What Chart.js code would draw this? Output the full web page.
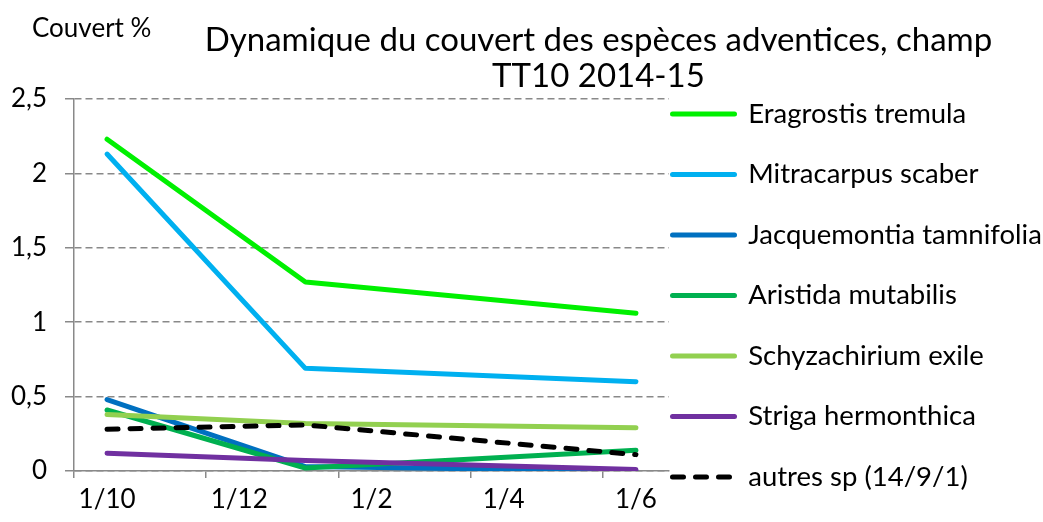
<!DOCTYPE html>
<html>
<head>
<meta charset="utf-8">
<script src="https://cdn.jsdelivr.net/npm/chart.js@4.4.1/dist/chart.umd.min.js"></script>
<style>
  html, body { margin: 0; padding: 0; background: #ffffff; }
  #wrap { width: 1043px; height: 522px; position: relative; }
</style>
</head>
<body>
<div id="wrap"><canvas id="c" width="1043" height="522"></canvas></div>
<script>
// ---- data ----
const chartTitle = ['Dynamique du couvert des espèces adventices, champ', 'TT10 2014-15'];
const unitLabel = 'Couvert %';
const months = ['1/10', '1/11', '1/12', '1/1', '1/2', '1/3', '1/4', '1/5', '1/6'];
const sampleDates = ['1/10', '1/1', '1/6'];
const seriesNames = ['Eragrostis tremula', 'Mitracarpus scaber', 'Jacquemontia tamnifolia',
  'Aristida mutabilis', 'Schyzachirium exile', 'Striga hermonthica', 'autres sp (14/9/1)'];
const eragrostis = [2.23, 1.27, 1.06];
const mitracarpus = [2.13, 0.69, 0.60];
const jacquemontia = [0.48, 0.03, 0.00];
const aristida = [0.41, 0.02, 0.14];
const schyzachirium = [0.38, 0.32, 0.29];
const striga = [0.12, 0.07, 0.01];
const autres = [0.28, 0.31, 0.11];
const yTicks = [0, 0.5, 1, 1.5, 2, 2.5];

// ---- styles ----
const seriesValues = [eragrostis, mitracarpus, jacquemontia, aristida, schyzachirium, striga, autres];
const seriesColors = ['#00F000', '#00B0F0', '#0070C0', '#00B050', '#92D050', '#7030A0', '#000000'];
const seriesDash = [[], [], [], [], [], [], [11, 12]];
const GRAY = '#898989';
const FONT = 'Lato';
const FS = 26;
const LEGEND_FS = 27.5;

const datasets = seriesValues.map((vals, i) => ({
  label: seriesNames[i],
  data: sampleDates.map((d, k) => ({ x: d, y: vals[k] })),
  borderColor: seriesColors[i],
  backgroundColor: seriesColors[i],
  borderWidth: 5,
  borderDash: seriesDash[i],
  borderCapStyle: 'round',
  borderJoinStyle: 'round',
  pointRadius: 0,
  pointHoverRadius: 0,
  pointStyle: 'line',
  tension: 0,
  order: seriesValues.length - i
}));

const layoutTweaks = {
  id: 'layoutTweaks',
  afterLayout(chart, args, opts) {
    const lg = chart.legend;
    if (lg) {
      lg.left += opts.legendDx;
      lg.top += opts.legendDy;
      lg.bottom += opts.legendDy;
    }
    const tb = chart.titleBlock;
    if (tb) {
      tb.left += opts.titleDx;
      tb.right += opts.titleDx;
    }
  },
  afterDraw(chart, args, opts) {
    const ctx = chart.ctx;
    ctx.save();
    ctx.font = opts.unitFont;
    ctx.fillStyle = '#000';
    ctx.textAlign = 'left';
    ctx.textBaseline = 'middle';
    ctx.fillText(unitLabel, opts.unitX, opts.unitY);
    ctx.restore();
  }
};

Chart.defaults.font.family = FONT;
Chart.defaults.color = '#000';

new Chart(document.getElementById('c'), {
  type: 'line',
  data: { labels: months, datasets: datasets },
  plugins: [layoutTweaks],
  options: {
    responsive: false,
    animation: false,
    devicePixelRatio: 1,
    layout: { padding: 0 },
    plugins: {
      tooltip: { enabled: false },
      title: {
        display: true,
        text: chartTitle,
        color: '#000',
        font: { size: 33, weight: 'normal', lineHeight: '36px' },
        padding: { top: 22, bottom: 5 }
      },
      legend: {
        display: true,
        position: 'right',
        maxWidth: 374,
        labels: {
          usePointStyle: true,
          pointStyleWidth: 62,
          padding: 33,
          color: '#000',
          font: { size: LEGEND_FS },
          sort: (a, b) => a.datasetIndex - b.datasetIndex,
          generateLabels: (chart) => {
            const items = Chart.defaults.plugins.legend.labels.generateLabels(chart);
            items.forEach(it => {
              const ds = chart.data.datasets[it.datasetIndex];
              it.lineDash = ds.borderDash;
              it.lineCap = ds.borderCapStyle;
              it.lineWidth = ds.borderWidth;
            });
            return items;
          }
        }
      },
      layoutTweaks: {
        legendDx: -29.5,
        legendDy: 34.5,
        titleDx: 77,
        unitFont: FS + 'px ' + FONT,
        unitX: 32,
        unitY: 29
      }
    },
    scales: {
      x: {
        type: 'category',
        offset: true,
        grid: {
          offset: true,
          drawOnChartArea: false,
          drawTicks: true,
          tickLength: 7,
          lineWidth: 1.5,
          color: (c) => (c.index !== undefined && c.index % 2 === 0) ? GRAY : 'rgba(0,0,0,0)'
        },
        border: { display: true, color: GRAY, width: 1.5 },
        ticks: {
          autoSkip: false,
          maxRotation: 0,
          padding: 6,
          font: { size: FS },
          callback: (v, i) => (i % 2 === 0 ? months[i] : '')
        },
        afterFit: (s) => { s.height = 51; }
      },
      y: {
        min: 0,
        max: 2.5,
        afterBuildTicks: (s) => { s.ticks = yTicks.map(v => ({ value: v })); },
        grid: {
          drawOnChartArea: true,
          drawTicks: true,
          tickLength: 9,
          lineWidth: 1.5,
          color: GRAY,
          tickBorderDash: []
        },
        border: { display: true, color: GRAY, width: 1.5, dash: [7, 4] },
        ticks: {
          padding: 18,
          font: { size: FS },
          callback: (v) => String(v).replace('.', ',')
        },
        afterFit: (s) => { s.width = 74; }
      }
    }
  }
});
</script>
</body>
</html>
